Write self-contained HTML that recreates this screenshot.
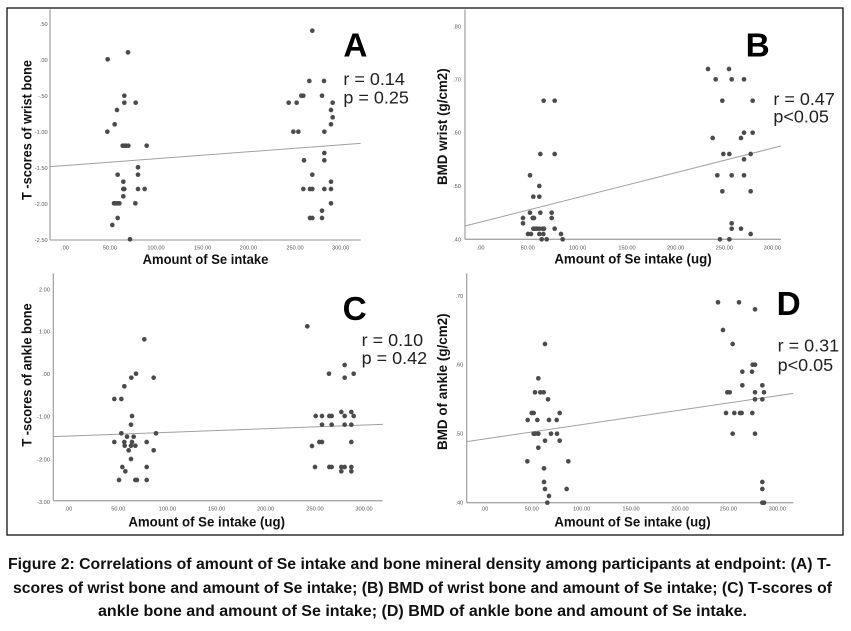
<!DOCTYPE html>
<html>
<head>
<meta charset="utf-8">
<style>
html,body{margin:0;padding:0;background:#fff;}
svg{display:block;}
.d{fill:#4b4b4b;}
.ax{stroke:#a8a8a8;stroke-width:4;fill:none;}
.rg{stroke:#a0a0a0;stroke-width:3;fill:none;}
.tk{font-family:"Liberation Sans",sans-serif;font-size:17px;fill:#555;}
.tt{font-family:"Liberation Sans",sans-serif;font-weight:bold;font-size:42px;fill:#111;}
.big{font-family:"Liberation Sans",sans-serif;font-weight:bold;font-size:100px;fill:#000;}
.st{font-family:"Liberation Sans",sans-serif;font-size:54px;fill:#222;}
.cap{font-family:"Liberation Sans",sans-serif;font-weight:bold;font-size:16px;fill:#111;}
</style>
</head>
<body>
<svg width="851" height="631" viewBox="0 0 851 631" xmlns="http://www.w3.org/2000/svg">
<rect x="0" y="0" width="851" height="631" fill="#fff"/>
<rect x="7" y="8" width="836" height="527" fill="none" stroke="#111" stroke-width="1.3"/>

<!-- Panel A -->
<g transform="translate(0,0) scale(0.3333333)">
<line class="ax" x1="150" y1="28" x2="150" y2="720"/>
<line class="ax" x1="150" y1="720" x2="1082" y2="720"/>
<g class="tk" text-anchor="end">
<text x="143" y="78">.50</text><text x="143" y="186">.00</text><text x="143" y="294">-.50</text><text x="143" y="402">-1.00</text><text x="143" y="510">-1.50</text><text x="143" y="618">-2.00</text><text x="143" y="726">-2.50</text>
</g>
<g class="tk" text-anchor="middle">
<text x="195" y="748">.00</text><text x="330" y="748">50.00</text><text x="468" y="748">100.00</text><text x="608" y="748">150.00</text><text x="745" y="748">200.00</text><text x="885" y="748">250.00</text><text x="1022" y="748">300.00</text>
</g>
<text class="tt" x="428" y="792" textLength="377" lengthAdjust="spacingAndGlyphs">Amount of Se intake</text>
<text class="tt" transform="translate(95,390) rotate(-90)" text-anchor="middle" textLength="420" lengthAdjust="spacingAndGlyphs">T -scores of wrist bone</text>
<text class="big" x="1030" y="170">A</text>
<text class="st" x="1030" y="255">r = 0.14</text>
<text class="st" x="1030" y="310">p = 0.25</text>
<line class="rg" x1="152" y1="500" x2="1082" y2="430"/>
<g class="d">
<circle cx="323" cy="178" r="7"/><circle cx="384" cy="157" r="7"/><circle cx="351" cy="330" r="7"/><circle cx="344" cy="373" r="7"/><circle cx="322" cy="395" r="7"/><circle cx="373" cy="287" r="7"/><circle cx="373" cy="308" r="7"/><circle cx="407" cy="308" r="7"/><circle cx="368" cy="437" r="7"/><circle cx="373" cy="437" r="7"/><circle cx="378" cy="437" r="7"/><circle cx="385" cy="437" r="7"/><circle cx="440" cy="437" r="7"/><circle cx="414" cy="502" r="7"/><circle cx="414" cy="524" r="7"/><circle cx="353" cy="524" r="7"/><circle cx="370" cy="545" r="7"/><circle cx="370" cy="567" r="7"/><circle cx="373" cy="567" r="7"/><circle cx="414" cy="567" r="7"/><circle cx="434" cy="567" r="7"/><circle cx="370" cy="589" r="7"/><circle cx="342" cy="610" r="7"/><circle cx="347" cy="610" r="7"/><circle cx="352" cy="610" r="7"/><circle cx="358" cy="610" r="7"/><circle cx="406" cy="610" r="7"/><circle cx="353" cy="654" r="7"/><circle cx="337" cy="675" r="7"/><circle cx="390" cy="718" r="7"/>
<circle cx="937" cy="92" r="7"/><circle cx="928" cy="243" r="7"/><circle cx="972" cy="243" r="7"/><circle cx="866" cy="308" r="7"/><circle cx="890" cy="308" r="7"/><circle cx="904" cy="287" r="7"/><circle cx="910" cy="287" r="7"/><circle cx="966" cy="287" r="7"/><circle cx="998" cy="308" r="7"/><circle cx="993" cy="330" r="7"/><circle cx="998" cy="352" r="7"/><circle cx="993" cy="373" r="7"/><circle cx="880" cy="395" r="7"/><circle cx="895" cy="395" r="7"/><circle cx="973" cy="395" r="7"/><circle cx="912" cy="481" r="7"/><circle cx="973" cy="459" r="7"/><circle cx="973" cy="481" r="7"/><circle cx="937" cy="524" r="7"/><circle cx="910" cy="567" r="7"/><circle cx="930" cy="567" r="7"/><circle cx="937" cy="567" r="7"/><circle cx="973" cy="567" r="7"/><circle cx="993" cy="567" r="7"/><circle cx="993" cy="545" r="7"/><circle cx="993" cy="610" r="7"/><circle cx="930" cy="654" r="7"/><circle cx="937" cy="654" r="7"/><circle cx="966" cy="632" r="7"/><circle cx="966" cy="654" r="7"/>
</g>
</g>

<!-- Panel B -->
<g transform="translate(425,0) scale(0.3333333)">
<line class="ax" x1="120" y1="28" x2="120" y2="718"/>
<line class="ax" x1="120" y1="718" x2="1068" y2="718"/>
<g class="tk" text-anchor="end">
<text x="108" y="86">.80</text><text x="108" y="244">.70</text><text x="108" y="404">.60</text><text x="108" y="564">.50</text><text x="108" y="724">.40</text>
</g>
<g class="tk" text-anchor="middle">
<text x="167" y="748">.00</text><text x="308" y="748">50.00</text><text x="458" y="748">100.00</text><text x="606" y="748">150.00</text><text x="752" y="748">200.00</text><text x="898" y="748">250.00</text><text x="1042" y="748">300.00</text>
</g>
<text class="tt" x="388" y="790" textLength="472" lengthAdjust="spacingAndGlyphs">Amount of Se intake (ug)</text>
<text class="tt" transform="translate(66,380) rotate(-90)" text-anchor="middle" textLength="350" lengthAdjust="spacingAndGlyphs">BMD wrist (g/cm2)</text>
<text class="big" x="962" y="170">B</text>
<text class="st" x="1045" y="315">r = 0.47</text>
<text class="st" x="1045" y="368">p&lt;0.05</text>
<line class="rg" x1="120" y1="678" x2="1068" y2="438"/>
<g class="d">
<circle cx="849" cy="207" r="7"/><circle cx="912" cy="207" r="7"/><circle cx="872" cy="238" r="7"/><circle cx="920" cy="238" r="7"/><circle cx="957" cy="238" r="7"/><circle cx="892" cy="302" r="7"/><circle cx="983" cy="302" r="7"/><circle cx="863" cy="414" r="7"/><circle cx="948" cy="414" r="7"/><circle cx="957" cy="398" r="7"/><circle cx="983" cy="398" r="7"/><circle cx="895" cy="462" r="7"/><circle cx="913" cy="462" r="7"/><circle cx="957" cy="478" r="7"/><circle cx="877" cy="526" r="7"/><circle cx="920" cy="526" r="7"/><circle cx="957" cy="526" r="7"/><circle cx="892" cy="574" r="7"/><circle cx="977" cy="574" r="7"/><circle cx="977" cy="462" r="7"/><circle cx="920" cy="670" r="7"/><circle cx="920" cy="686" r="7"/><circle cx="948" cy="686" r="7"/><circle cx="977" cy="702" r="7"/><circle cx="885" cy="718" r="7"/><circle cx="913" cy="718" r="7"/>
<circle cx="356" cy="302" r="7"/><circle cx="389" cy="302" r="7"/><circle cx="346" cy="462" r="7"/><circle cx="389" cy="462" r="7"/><circle cx="315" cy="526" r="7"/><circle cx="343" cy="558" r="7"/><circle cx="343" cy="590" r="7"/><circle cx="325" cy="590" r="7"/><circle cx="346" cy="638" r="7"/><circle cx="380" cy="638" r="7"/><circle cx="315" cy="638" r="7"/><circle cx="294" cy="654" r="7"/><circle cx="294" cy="670" r="7"/><circle cx="323" cy="654" r="7"/><circle cx="327" cy="654" r="7"/><circle cx="329" cy="686" r="7"/><circle cx="325" cy="686" r="7"/><circle cx="335" cy="686" r="7"/><circle cx="343" cy="686" r="7"/><circle cx="353" cy="686" r="7"/><circle cx="357" cy="686" r="7"/><circle cx="389" cy="686" r="7"/><circle cx="380" cy="654" r="7"/><circle cx="309" cy="702" r="7"/><circle cx="318" cy="702" r="7"/><circle cx="343" cy="702" r="7"/><circle cx="355" cy="702" r="7"/><circle cx="408" cy="702" r="7"/><circle cx="350" cy="718" r="7"/><circle cx="365" cy="718" r="7"/><circle cx="413" cy="718" r="7"/>
</g>
</g>

<!-- Panel C -->
<g transform="translate(0,260) scale(0.3333333)">
<line class="ax" x1="160" y1="40" x2="160" y2="722"/>
<line class="ax" x1="160" y1="722" x2="1148" y2="722"/>
<g class="tk" text-anchor="end">
<text x="150" y="94">2.00</text><text x="150" y="220">1.00</text><text x="150" y="348">.00</text><text x="150" y="476">-1.00</text><text x="150" y="604">-2.00</text><text x="150" y="732">-3.00</text>
</g>
<g class="tk" text-anchor="middle">
<text x="205" y="752">.00</text><text x="355" y="752">50.00</text><text x="502" y="752">100.00</text><text x="650" y="752">150.00</text><text x="797" y="752">200.00</text><text x="945" y="752">250.00</text><text x="1092" y="752">300.00</text>
</g>
<text class="tt" x="385" y="800" textLength="470" lengthAdjust="spacingAndGlyphs">Amount of Se intake (ug)</text>
<text class="tt" transform="translate(95,345) rotate(-90)" text-anchor="middle" textLength="430" lengthAdjust="spacingAndGlyphs">T -scores of ankle bone</text>
<text class="big" x="1028" y="180">C</text>
<text class="st" x="1085" y="258">r = 0.10</text>
<text class="st" x="1085" y="312">p = 0.42</text>
<line class="rg" x1="160" y1="530" x2="1148" y2="493"/>
<g class="d">
<circle cx="433" cy="238" r="7"/><circle cx="408" cy="341" r="7"/><circle cx="394" cy="353" r="7"/><circle cx="461" cy="353" r="7"/><circle cx="373" cy="379" r="7"/><circle cx="343" cy="417" r="7"/><circle cx="364" cy="417" r="7"/><circle cx="396" cy="468" r="7"/><circle cx="393" cy="494" r="7"/><circle cx="364" cy="520" r="7"/><circle cx="468" cy="520" r="7"/><circle cx="343" cy="546" r="7"/><circle cx="381" cy="530" r="7"/><circle cx="401" cy="530" r="7"/><circle cx="373" cy="546" r="7"/><circle cx="396" cy="546" r="7"/><circle cx="440" cy="546" r="7"/><circle cx="374" cy="557" r="7"/><circle cx="393" cy="557" r="7"/><circle cx="406" cy="557" r="7"/><circle cx="386" cy="571" r="7"/><circle cx="461" cy="571" r="7"/><circle cx="393" cy="597" r="7"/><circle cx="367" cy="621" r="7"/><circle cx="440" cy="621" r="7"/><circle cx="376" cy="634" r="7"/><circle cx="357" cy="660" r="7"/><circle cx="406" cy="660" r="7"/><circle cx="411" cy="660" r="7"/><circle cx="440" cy="660" r="7"/>
<circle cx="922" cy="199" r="7"/><circle cx="1034" cy="315" r="7"/><circle cx="987" cy="341" r="7"/><circle cx="1034" cy="353" r="7"/><circle cx="1061" cy="341" r="7"/><circle cx="947" cy="468" r="7"/><circle cx="966" cy="468" r="7"/><circle cx="988" cy="468" r="7"/><circle cx="995" cy="468" r="7"/><circle cx="1034" cy="468" r="7"/><circle cx="1024" cy="456" r="7"/><circle cx="1054" cy="456" r="7"/><circle cx="1061" cy="468" r="7"/><circle cx="966" cy="494" r="7"/><circle cx="995" cy="494" r="7"/><circle cx="1034" cy="494" r="7"/><circle cx="1054" cy="494" r="7"/><circle cx="958" cy="546" r="7"/><circle cx="966" cy="546" r="7"/><circle cx="1054" cy="546" r="7"/><circle cx="936" cy="558" r="7"/><circle cx="945" cy="621" r="7"/><circle cx="988" cy="621" r="7"/><circle cx="995" cy="621" r="7"/><circle cx="1024" cy="621" r="7"/><circle cx="1034" cy="621" r="7"/><circle cx="1054" cy="621" r="7"/><circle cx="1024" cy="634" r="7"/><circle cx="1054" cy="634" r="7"/>
</g>
</g>

<!-- Panel D -->
<g transform="translate(425,260) scale(0.3333333)">
<line class="ax" x1="125" y1="40" x2="125" y2="728"/>
<line class="ax" x1="125" y1="728" x2="1105" y2="728"/>
<g class="tk" text-anchor="end">
<text x="115" y="114">.70</text><text x="115" y="320">.60</text><text x="115" y="526">.50</text><text x="115" y="734">.40</text>
</g>
<g class="tk" text-anchor="middle">
<text x="178" y="752">.00</text><text x="320" y="752">50.00</text><text x="470" y="752">100.00</text><text x="618" y="752">150.00</text><text x="765" y="752">200.00</text><text x="910" y="752">250.00</text><text x="1057" y="752">300.00</text>
</g>
<text class="tt" x="388" y="800" textLength="469" lengthAdjust="spacingAndGlyphs">Amount of Se intake (ug)</text>
<text class="tt" transform="translate(66,365) rotate(-90)" text-anchor="middle" textLength="410" lengthAdjust="spacingAndGlyphs">BMD of ankle (g/cm2)</text>
<text class="big" x="1055" y="165">D</text>
<text class="st" x="1058" y="275">r = 0.31</text>
<text class="st" x="1058" y="333">p&lt;0.05</text>
<line class="rg" x1="125" y1="545" x2="1105" y2="400"/>
<g class="d">
<circle cx="879" cy="127" r="7"/><circle cx="942" cy="127" r="7"/><circle cx="990" cy="148" r="7"/><circle cx="894" cy="210" r="7"/><circle cx="923" cy="252" r="7"/><circle cx="983" cy="314" r="7"/><circle cx="990" cy="314" r="7"/><circle cx="952" cy="335" r="7"/><circle cx="981" cy="335" r="7"/><circle cx="952" cy="376" r="7"/><circle cx="907" cy="397" r="7"/><circle cx="914" cy="397" r="7"/><circle cx="990" cy="397" r="7"/><circle cx="1012" cy="376" r="7"/><circle cx="1017" cy="397" r="7"/><circle cx="990" cy="418" r="7"/><circle cx="1012" cy="418" r="7"/><circle cx="903" cy="459" r="7"/><circle cx="928" cy="459" r="7"/><circle cx="945" cy="459" r="7"/><circle cx="950" cy="459" r="7"/><circle cx="982" cy="459" r="7"/><circle cx="923" cy="521" r="7"/><circle cx="990" cy="521" r="7"/><circle cx="1012" cy="666" r="7"/><circle cx="1012" cy="687" r="7"/><circle cx="1012" cy="728" r="7"/><circle cx="1017" cy="728" r="7"/>
<circle cx="360" cy="252" r="7"/><circle cx="340" cy="355" r="7"/><circle cx="330" cy="397" r="7"/><circle cx="346" cy="397" r="7"/><circle cx="356" cy="397" r="7"/><circle cx="369" cy="418" r="7"/><circle cx="320" cy="459" r="7"/><circle cx="326" cy="459" r="7"/><circle cx="308" cy="480" r="7"/><circle cx="337" cy="480" r="7"/><circle cx="372" cy="480" r="7"/><circle cx="395" cy="480" r="7"/><circle cx="404" cy="459" r="7"/><circle cx="326" cy="521" r="7"/><circle cx="331" cy="521" r="7"/><circle cx="340" cy="521" r="7"/><circle cx="378" cy="521" r="7"/><circle cx="396" cy="521" r="7"/><circle cx="360" cy="542" r="7"/><circle cx="404" cy="542" r="7"/><circle cx="340" cy="563" r="7"/><circle cx="307" cy="604" r="7"/><circle cx="430" cy="604" r="7"/><circle cx="357" cy="625" r="7"/><circle cx="357" cy="666" r="7"/><circle cx="360" cy="687" r="7"/><circle cx="425" cy="687" r="7"/><circle cx="372" cy="708" r="7"/><circle cx="367" cy="728" r="7"/>
</g>
</g>

<!-- Caption -->
<text class="cap" x="8" y="569" textLength="823" lengthAdjust="spacingAndGlyphs">Figure 2: Correlations of amount of Se intake and bone mineral density among participants at endpoint: (A) T-</text>
<text class="cap" x="13" y="593" textLength="819" lengthAdjust="spacingAndGlyphs">scores of wrist bone and amount of Se intake; (B) BMD of wrist bone and amount of Se intake; (C) T-scores of</text>
<text class="cap" x="98" y="616" textLength="649" lengthAdjust="spacingAndGlyphs">ankle bone and amount of Se intake; (D) BMD of ankle bone and amount of Se intake.</text>
</svg>
</body>
</html>
